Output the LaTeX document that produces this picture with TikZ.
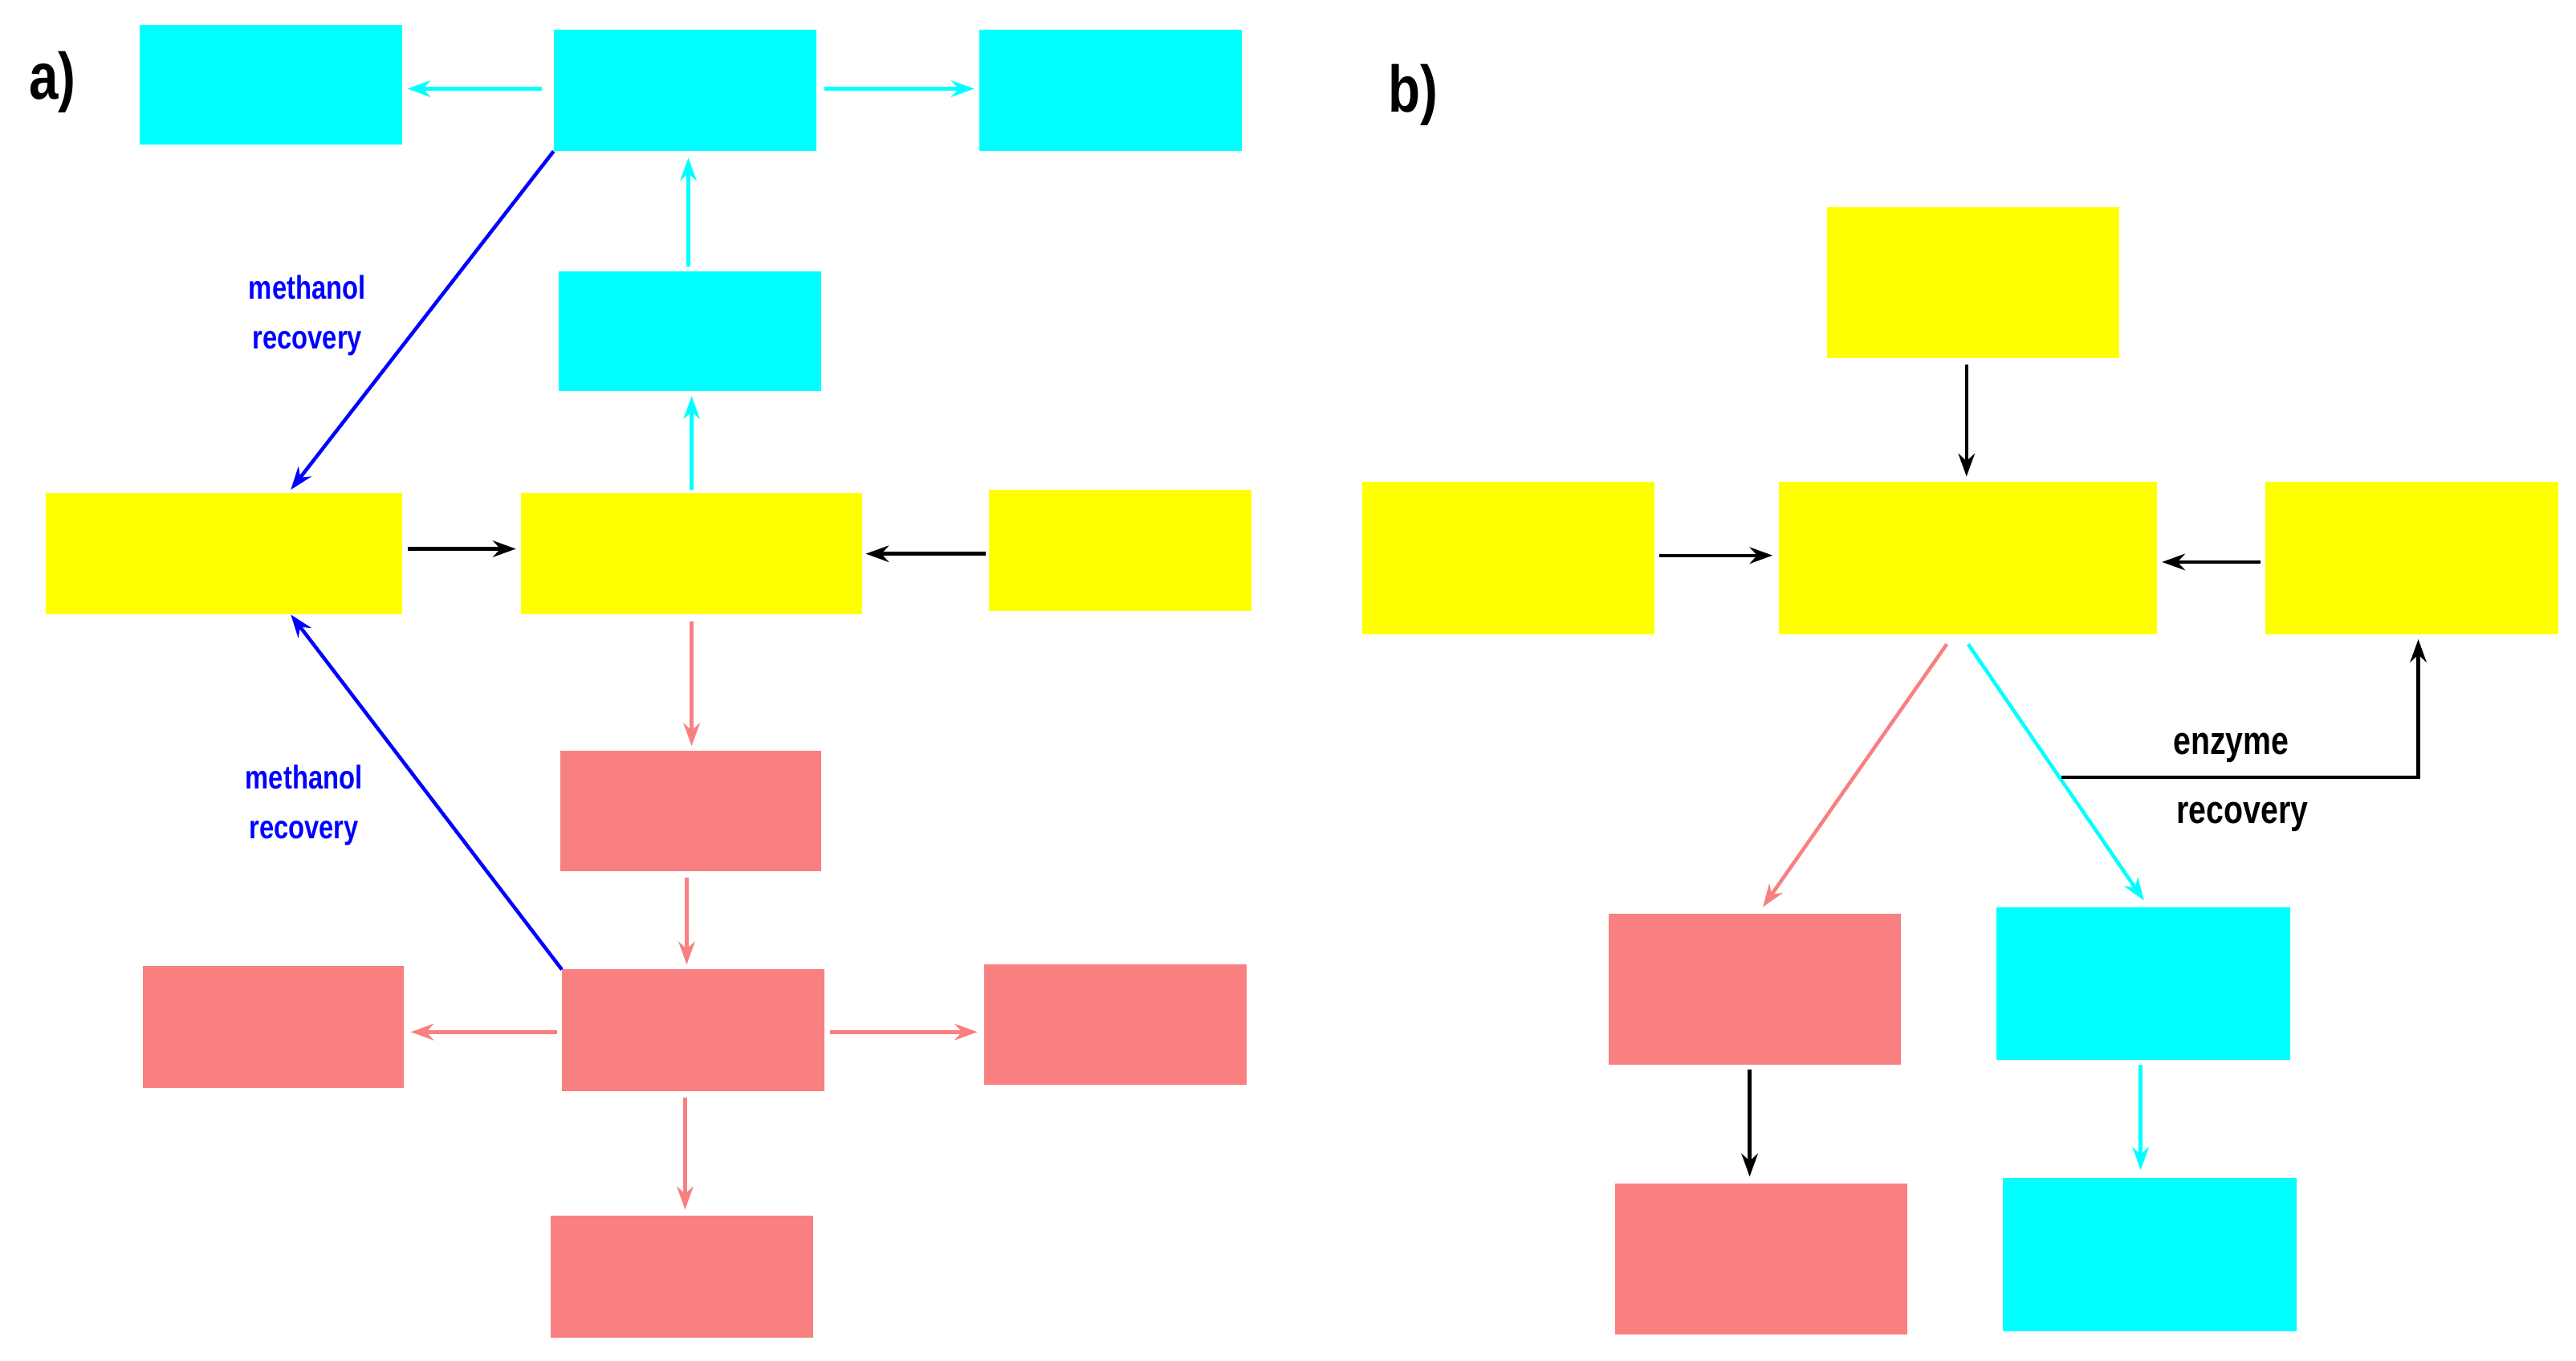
\documentclass[tikz,border=0pt]{standalone}
\usepackage{fontspec}
\setmainfont{Liberation Sans}[FakeStretch=0.8]
\usetikzlibrary{arrows.meta}
\definecolor{cy}{HTML}{00FFFF}
\definecolor{ye}{HTML}{FFFF00}
\definecolor{pk}{HTML}{F88080}
\begin{document}
\begin{tikzpicture}[x=1pt,y=-1pt,
 bx/.style={inner sep=0pt,align=center,font=\bfseries\fontsize{22}{30}\selectfont},
 bb/.style={inner sep=0pt,align=center,font=\bfseries\fontsize{27}{40}\selectfont},
 ar/.style={line width=2.2pt,-{Stealth[length=14pt,width=10pt]}},
 lab/.style={font=\bfseries\fontsize{20}{30}\selectfont,align=center}]
\useasboundingbox (0,0) rectangle (1568,828);
\newcommand\bxx[6]{\fill[#5] (#1,#2) rectangle (#3,#4); \node[bx] (#6) at ({(#1+#3)/2},{(#2+#4)/2}) {};}
% panel a
\node[font=\bfseries\fontsize{40}{40}\selectfont] (la) at (32,50) {a)};
\fill[cy] (85,15) rectangle (245,88) node[bx,midway] (aw) {alkaline waste};
\fill[cy] (337,18) rectangle (497,92) node[bx,midway] (wa) {washing};
\fill[cy] (596,18) rectangle (756,92) node[bx,midway] (bd) {biodiesel};
\fill[cy] (340,165) rectangle (500,238) node[bx,midway] (up) {upper phase};
\fill[ye] (28,300) rectangle (245,374) node[bx,midway] (mk) {methanol + KOH};
\fill[ye] (317,300) rectangle (525,374) node[bx,midway] (tr) {transesterification};
\fill[ye] (602,298) rectangle (762,372) node[bx,midway] (fs) {feedstock};
\fill[pk] (341,457) rectangle (500,530) node[bx,midway] (lp) {lower phase};
\fill[pk] (87,588) rectangle (246,662) node[bx,midway] (rg) {refined\\glycerol};
\fill[pk] (342,590) rectangle (502,664) node[bx,midway] (pu) {purification};
\fill[pk] (599,587) rectangle (759,660) node[bx,midway] (sl) {sludge};
\fill[pk] (335,740) rectangle (495,814) node[bx,midway] (sp) {saponified\\products};
\coordinate (wab) at (337,92); \coordinate (mkt) at (177,298);
\coordinate (put) at (342,590); \coordinate (mkb) at (177,374);
\draw[ar,cy] (330,54) -- (248,54);
\draw[ar,cy] (502,54) -- (593,54);
\draw[ar,cy] (419,162) -- (419,96);
\draw[ar,cy] (421,298) -- (421,241);
\draw[ar] (600,337) -- (527,337);
\draw[ar] (248,334) -- (314,334);
\draw[ar,pk] (421,378) -- (421,454);
\draw[ar,pk] (418,534) -- (418,587);
\draw[ar,pk] (339,628) -- (250,628);
\draw[ar,pk] (505,628) -- (595,628);
\draw[ar,pk] (417,668) -- (417,736);
\draw[ar,blue] (wab) -- (mkt);
\draw[ar,blue] (put) -- (mkb);
\node[lab,text=blue] (r1) at (187,192) {methanol\\recovery};
\node[lab,text=blue] (r2) at (185,490) {methanol\\recovery};
% panel b
\node[font=\bfseries\fontsize{40}{40}\selectfont] (lb) at (860,58) {b)};
\fill[ye] (1112,126) rectangle (1290,218) node[bb,midway] (bf) {feedstock};
\fill[ye] (829,293) rectangle (1007,386) node[bb,midway] (bm) {methanol};
\fill[ye] (1083,293) rectangle (1313,386) node[bb,midway] (bt) {transesterification};
\fill[ye] (1379,293) rectangle (1557,386) node[bb,midway] (be) {immobilized\\enzyme};
\fill[pk] (979,556) rectangle (1157,648) node[bb,midway] (bl) {lower phase};
\fill[cy] (1215,552) rectangle (1394,645) node[bb,midway] (bu) {upper phase};
\fill[pk] (983,720) rectangle (1161,812) node[bb,midway] (bbd) {biodiesel};
\fill[cy] (1219,717) rectangle (1398,810) node[bb,midway] (bg) {glycerol};
\draw[ar] (1197,222) -- (1197,290);
\draw[ar] (1010,338) -- (1079,338);
\draw[ar] (1376,342) -- (1316,342);
\draw[ar,pk] (1185,392) -- (1073,552);
\draw[ar,cy] (1198,392) -- (1305,548);
\draw[ar] (1065,651) -- (1065,716);
\draw[ar,cy] (1303,648) -- (1303,712);
\coordinate (e1) at (1255,473);
\draw[ar] (e1) -| (1472,389);
\node[lab,font=\bfseries\fontsize{24}{30}\selectfont] (er1) at (1358,455) {enzyme};
\node[lab,font=\bfseries\fontsize{24}{30}\selectfont] (er2) at (1365,497) {recovery};
\end{tikzpicture}
\end{document}
